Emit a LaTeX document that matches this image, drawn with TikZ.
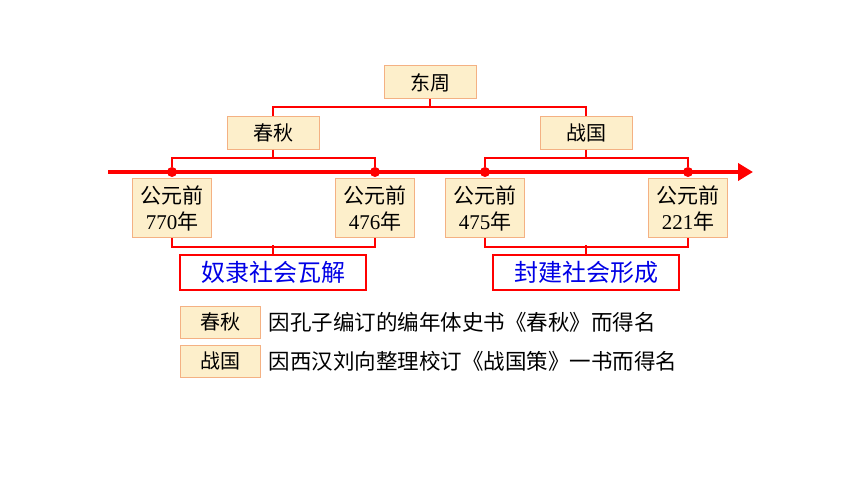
\documentclass[tikz,border=0pt]{standalone}
\usepackage{fontspec}
\newfontfamily\cjk{Noto Sans CJK SC}
\newfontfamily\num{Liberation Serif}
\usetikzlibrary{arrows.meta,positioning}
\definecolor{boxfill}{RGB}{253,239,203}
\definecolor{boxline}{RGB}{244,177,131}
\definecolor{linkred}{RGB}{255,0,0}
\definecolor{textblue}{RGB}{0,0,230}
\tikzstyle{period} = [rectangle, draw=boxline, fill=boxfill, line width=1pt, minimum width=92pt, minimum height=33pt, inner sep=0pt, font=\cjk\fontsize{20}{24}\selectfont]
\tikzstyle{datebox} = [rectangle, draw=boxline, fill=boxfill, line width=1pt, minimum width=79pt, minimum height=59pt, inner sep=0pt, align=center, font=\num\fontsize{21}{26}\selectfont]
\tikzstyle{result} = [rectangle, draw=linkred, fill=white, line width=2pt, minimum width=186pt, minimum height=35pt, inner sep=0pt, text=textblue, font=\cjk\fontsize{24}{26}\selectfont]
\tikzstyle{tag} = [period, minimum width=80pt, minimum height=32pt]
\tikzstyle{note} = [anchor=west, inner sep=0pt, font=\cjk\fontsize{21.5}{24}\selectfont]
\tikzstyle{link} = [draw=linkred, line width=2pt]
\tikzstyle{dot} = [circle, fill=linkred, inner sep=0pt, minimum size=10pt]
\tikzstyle{axis} = [draw=linkred, line width=4.5pt, -{Triangle[length=15pt,width=17pt]}]
\begin{document}
\begin{tikzpicture}[x=1pt, y=-1pt]
	\useasboundingbox (0,0) rectangle (860,484);
	% periods
	\node[period] (DZ) at (430,82.5) {东周};
	\node[period] (CQ) at (273,133) {春秋};
	\node[period] (ZG) at (586,133) {战国};
	\draw[link] (DZ.south) -- ++(0,8) -| (CQ.north);
	\draw[link] (DZ.south) -- ++(0,8) -| (ZG.north);
	% time line
	\coordinate (start) at (108,172);
	\coordinate (end) at (753,172);
	\draw[axis] (start) -- (end);
	\node[dot] (D1) at (172,172) {};
	\node[dot] (D2) at (375,172) {};
	\node[dot] (D3) at (485,172) {};
	\node[dot] (D4) at (688,172) {};
	\draw[link] (CQ.south) -- ++(0,8) -| (D1);
	\draw[link] (CQ.south) -- ++(0,8) -| (D2);
	\draw[link] (ZG.south) -- ++(0,8) -| (D3);
	\draw[link] (ZG.south) -- ++(0,8) -| (D4);
	% dates
	\node[datebox, below=1pt of D1] (Y770) {{\cjk 公元前}\\770{\cjk 年}};
	\node[datebox, below=1pt of D2] (Y476) {{\cjk 公元前}\\476{\cjk 年}};
	\node[datebox, below=1pt of D3] (Y475) {{\cjk 公元前}\\475{\cjk 年}};
	\node[datebox, below=1pt of D4] (Y221) {{\cjk 公元前}\\221{\cjk 年}};
	% results
	\node[result] (FALL) at (273,272.5) {奴隶社会瓦解};
	\node[result] (RISE) at (586,272.5) {封建社会形成};
	\draw[link] (Y770.south) -- ++(0,9) -| (Y476.south);
	\draw[link] (FALL.north) -- ++(0,-9);
	\draw[link] (Y475.south) -- ++(0,9) -| (Y221.south);
	\draw[link] (RISE.north) -- ++(0,-9);
	% names
	\node[tag] (T1) at (220,322) {春秋};
	\node[tag] (T2) at (220,361) {战国};
	\node[note, right=8pt of T1] (N1) {因孔子编订的编年体史书《春秋》而得名};
	\node[note, right=8pt of T2] (N2) {因西汉刘向整理校订《战国策》一书而得名};
\end{tikzpicture}
\end{document}
